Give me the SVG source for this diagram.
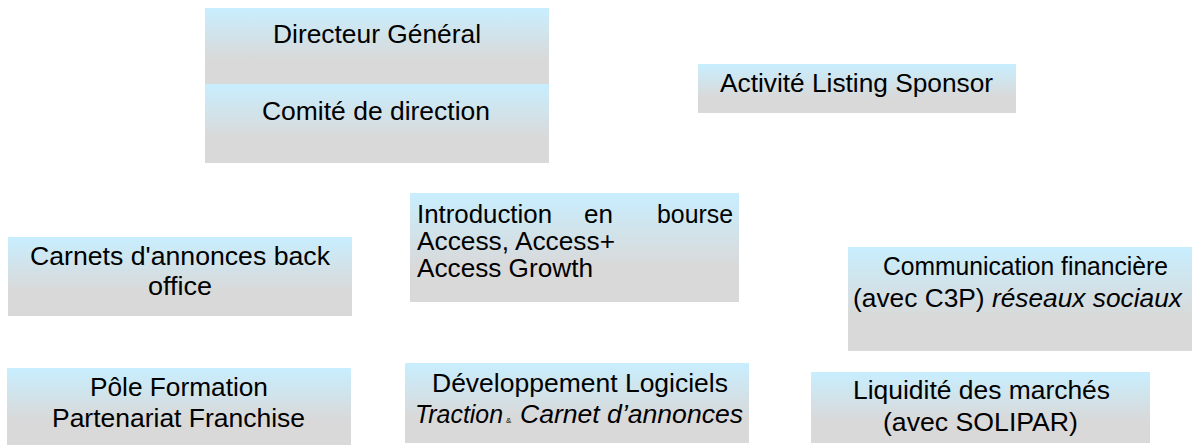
<svg xmlns="http://www.w3.org/2000/svg" width="1192" height="445" viewBox="0 0 1192 445">
<defs>
<linearGradient id="g" x1="0" y1="0" x2="0" y2="1">
<stop offset="0" stop-color="#c8eefe"/>
<stop offset="0.68" stop-color="#d9d9d9"/>
<stop offset="1" stop-color="#d9d9d9"/>
</linearGradient>
</defs>
<style>
.box{fill:url(#g);stroke:none}
text{font-family:"Liberation Sans",Arial,sans-serif;font-size:25px;fill:#000}
.it{font-style:italic}
</style>
<rect width="1192" height="445" fill="#fff"/>
<g id="connectors"/>
<g id="n-directeur">
<rect class="box" x="205" y="8" width="344" height="76"/>
<text transform="matrix(1.05 0 0 1 273 43)" textLength="198.1" lengthAdjust="spacingAndGlyphs">Directeur Général</text>
</g>
<g id="n-comite">
<rect class="box" x="205" y="84" width="344" height="79"/>
<text transform="matrix(1.05 0 0 1 262 120)" textLength="217.1" lengthAdjust="spacingAndGlyphs">Comité de direction</text>
</g>
<g id="n-listing">
<rect class="box" x="698" y="64" width="318" height="49"/>
<text transform="matrix(1.05 0 0 1 720 92)" textLength="260" lengthAdjust="spacingAndGlyphs">Activité Listing Sponsor</text>
</g>
<g id="n-intro">
<rect class="box" x="410" y="193" width="329" height="109"/>
<text transform="matrix(1.05 0 0 1 417 223)" textLength="128.6" lengthAdjust="spacingAndGlyphs">Introduction</text>
<text transform="matrix(1.05 0 0 1 584 223)" textLength="27.6" lengthAdjust="spacingAndGlyphs">en</text>
<text transform="matrix(1.05 0 0 1 657 223)" textLength="72.4" lengthAdjust="spacingAndGlyphs">bourse</text>
<text transform="matrix(1.05 0 0 1 417 250)" textLength="188.6" lengthAdjust="spacingAndGlyphs">Access, Access+</text>
<text transform="matrix(1.05 0 0 1 417 277)" textLength="167.6" lengthAdjust="spacingAndGlyphs">Access Growth</text>
</g>
<g id="n-carnets">
<rect class="box" x="8" y="237" width="344" height="79"/>
<text transform="matrix(1.05 0 0 1 30 265)" textLength="285.7" lengthAdjust="spacingAndGlyphs">Carnets d'annonces back</text>
<text transform="matrix(1.05 0 0 1 148 295)" textLength="61" lengthAdjust="spacingAndGlyphs">office</text>
</g>
<g id="n-communication">
<rect class="box" x="848" y="247" width="344" height="104"/>
<text transform="matrix(1.05 0 0 1 883 275)" textLength="271.4" lengthAdjust="spacingAndGlyphs">Communication financière</text>
<text transform="matrix(1.05 0 0 1 853 307)" textLength="313.3" lengthAdjust="spacingAndGlyphs">(avec C3P) <tspan class="it">réseaux sociaux</tspan></text>
</g>
<g id="n-pole">
<rect class="box" x="7" y="368" width="344" height="77"/>
<text transform="matrix(1.05 0 0 1 90 396)" textLength="169.5" lengthAdjust="spacingAndGlyphs">Pôle Formation</text>
<text transform="matrix(1.05 0 0 1 52 427)" textLength="241" lengthAdjust="spacingAndGlyphs">Partenariat Franchise</text>
</g>
<g id="n-dev">
<rect class="box" x="405" y="363" width="344" height="80"/>
<text transform="matrix(1.05 0 0 1 432 392)" textLength="281.9" lengthAdjust="spacingAndGlyphs">Développement Logiciels</text>
<text class="it" transform="matrix(1.05 0 0 1 415 423)" textLength="83.8" lengthAdjust="spacingAndGlyphs">Traction</text>
<text x="506" y="423" style="font-size:8px">&amp;</text>
<text class="it" transform="matrix(1.05 0 0 1 520 423)" textLength="212.4" lengthAdjust="spacingAndGlyphs">Carnet d’annonces</text>
</g>
<g id="n-liquidite">
<rect class="box" x="811" y="372" width="339" height="71"/>
<text transform="matrix(1.05 0 0 1 853 399)" textLength="244.8" lengthAdjust="spacingAndGlyphs">Liquidité des marchés</text>
<text transform="matrix(1.05 0 0 1 883 431)" textLength="185.7" lengthAdjust="spacingAndGlyphs">(avec SOLIPAR)</text>
</g>
</svg>
